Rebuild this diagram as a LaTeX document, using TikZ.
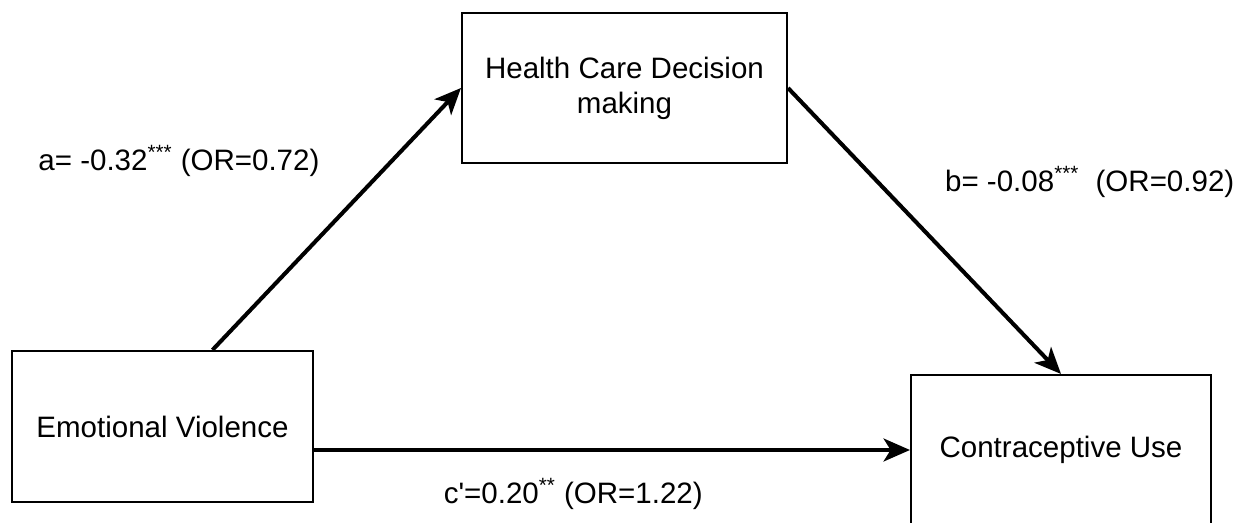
\documentclass[tikz,border=0pt]{standalone}
\usepackage{fontspec}
\setmainfont{Liberation Sans}
\usetikzlibrary{arrows.meta}

\begin{document}
\begin{tikzpicture}[x=0.02cm,y=-0.02cm,>={Stealth[length=15pt,width=13pt,inset=4pt]},
    line width=2.3pt,font=\fontsize{16.8}{20}\selectfont,
    main node/.style={rectangle,draw,line width=1.2pt,align=center,minimum width=6.02cm,minimum height=3.02cm},
    coef/.style={inner sep=0pt}]
    \useasboundingbox (0,0) rectangle (1245,523);
    \node[main node] (ev) at (162.5,426.5) {Emotional Violence};
    \node[main node,minimum width=6.5cm,minimum height=3cm] (hc) at (624.5,88) {Health Care Decision\\making};
    \node[main node,minimum width=6cm,minimum height=3cm] (cu) at (1061,450) {Contraceptive Use};
    \path[->]
    ([xshift=1cm]ev.north) edge node [coef,pos=0.72,left=1.4cm] {a= -0.32\textsuperscript{***} (OR=0.72)} (hc.west)
    (hc.east) edge node [coef,pos=0.33,right=1.3cm] {b= -0.08\textsuperscript{***}\ \ (OR=0.92)} (cu.north)
    (ev.east |- cu.west) edge node [coef,pos=0.435,below=0.52cm] {c\textquotesingle=0.20\textsuperscript{**} (OR=1.22)} (cu.west);
\end{tikzpicture}
\end{document}
